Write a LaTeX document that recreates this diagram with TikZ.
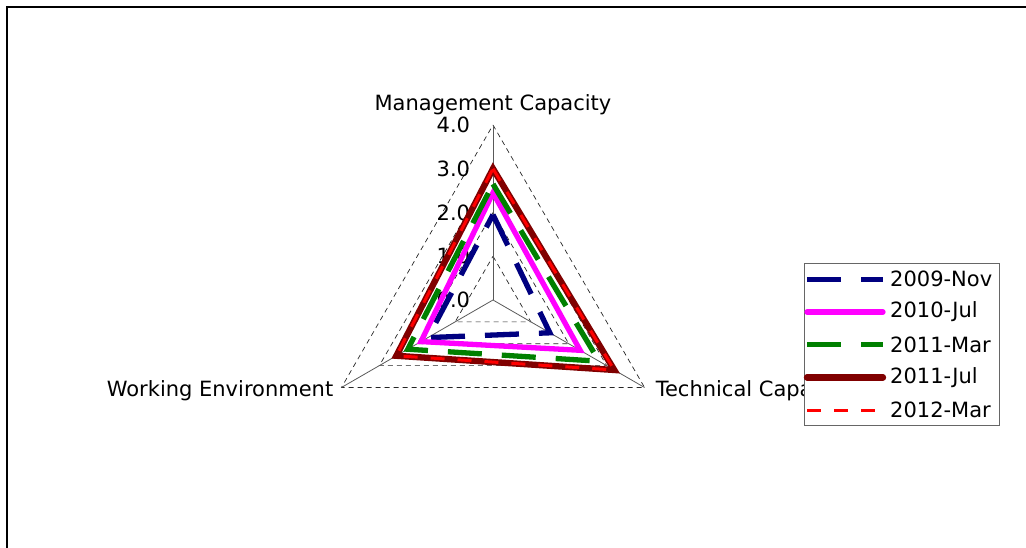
\documentclass[tikz,border=0pt]{standalone}
\usepackage{fontspec}
\setmainfont{DejaVu Sans}
\usetikzlibrary{positioning}

\definecolor{novblue}{RGB}{0,0,128}
\definecolor{julmag}{RGB}{255,0,255}
\definecolor{margreen}{RGB}{0,128,0}
\definecolor{julmaroon}{RGB}{128,0,0}
\definecolor{marred}{RGB}{255,0,0}

\begin{document}
\begin{tikzpicture}[x=1pt, y=1pt,
		ring/.style={black!85, line width=0.7pt, dash pattern=on 5pt off 4pt},
		spoke/.style={black!65, line width=0.8pt},
		lbl/.style={font=\fontsize{21}{24}\selectfont, inner sep=0pt},
		nov/.style={novblue, line width=5.3pt, dash pattern=on 34pt off 20pt},
		jul10/.style={julmag, line width=5.3pt, line cap=round},
		mar11/.style={margreen, line width=5.3pt, dash pattern=on 34pt off 20pt},
		jul11/.style={julmaroon, line width=6.3pt, line cap=round},
		mar12/.style={marred, line width=3pt, dash pattern=on 14pt off 13pt}]
		
		\useasboundingbox (-493,-248) rectangle (533,300);
		
		% --- 1. THE FRAME ---
		\draw[line width=1.5pt] (-486,-248) -- (-486,293) -- (533,293);
		
		% --- 2. THE RADAR GRID (one unit = 1.0) ---
		\begin{scope}[x=43.75pt, y=43.75pt]
			% Dashed rings at 1.0 ... 4.0
			\foreach \r in {1,...,4}
				\draw[ring] (90:\r) -- (-30:\r) -- (210:\r) -- cycle;
			
			% Spokes
			\foreach \a in {90,-30,210}
				\draw[spoke] (0,0) -- (\a:4);
			
			% Scale labels on the upper spoke
			\foreach \v in {0,...,4}
				\node[lbl, anchor=east] (tick\v) at (-0.52, \v) {\v.0};
			
			% Axis labels
			\node[lbl, anchor=base] (mgmt) at (0, 4.34) {Management Capacity};
			\node[lbl, anchor=east, xshift=-8pt, yshift=-3pt] (work) at (210:4) {Working Environment};
			\node[lbl, anchor=west, xshift=11pt, yshift=-3pt] (tech) at (-30:4) {Technical Capacity};
			
			% --- 3. THE SURVEYS ---
			\draw[nov] (90:1.95) -- (-30:1.5) -- (210:1.72) -- cycle;
			\draw[jul10] (90:2.45) -- (-30:2.3) -- (210:1.9) -- cycle;
			\draw[mar11] (90:2.65) -- (-30:2.8) -- (210:2.25) -- cycle;
			\draw[jul11] (90:3.0) -- (-30:3.2) -- (210:2.55) -- cycle;
			\draw[mar12] (90:3.0) -- (-30:3.2) -- (210:2.55) -- cycle;
		\end{scope}
		
		% --- 4. THE LEGEND ---
		\node[draw=black!60, fill=white, line width=1pt, minimum width=195pt,
			minimum height=162pt, inner sep=0pt] (legend) at (408.5,-45) {};
		\foreach \sty/\txt [count=\i] in {nov/2009-Nov, jul10/2010-Jul, mar11/2011-Mar, jul11/2011-Jul, mar12/2012-Mar} {
			\node[lbl, anchor=west] (leg\i) at (397, {20.7-(\i-1)*32.7}) {\txt};
			\draw[\sty] ([xshift=-83pt]leg\i.west) -- ([xshift=-7pt]leg\i.west);
		}
		
	\end{tikzpicture}
\end{document}
